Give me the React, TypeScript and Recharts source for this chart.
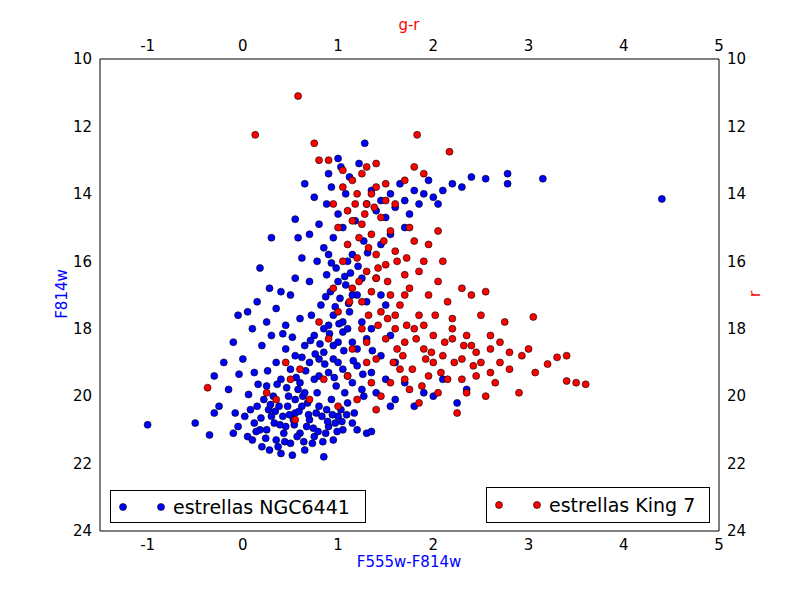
import { ScatterChart, Scatter, XAxis, YAxis } from 'recharts'

const X_TICKS = [-1, 0, 1, 2, 3, 4, 5]
const Y_TICKS = [10, 12, 14, 16, 18, 20, 22, 24]

const NGC6441: [number, number][] = [
  [0.05,21.2],[0.12,20.8],[0.2,21.5],[0.25,21.0],[0.3,20.6],[0.35,21.3],[0.4,21.7],[0.45,20.9],[0.5,21.4],[0.55,20.5],
  [0.6,21.1],[0.65,21.6],[0.7,20.7],[0.75,21.2],[0.8,20.3],[0.85,21.8],[0.9,20.9],[0.95,21.3],[1.0,20.6],[1.05,21.0],
  [0.15,20.3],[0.22,20.1],[0.38,20.3],[0.48,20.0],[0.58,19.8],[0.68,20.2],[0.78,19.9],[0.88,20.4],[0.98,19.7],[1.1,20.2],
  [0.02,20.6],[-0.05,20.9],[-0.1,21.1],[0.28,21.6],[0.52,21.75],[0.62,20.3],[0.42,20.6],[0.32,20.0],[0.18,21.0],[0.08,20.4],
  [1.15,20.8],[1.2,21.0],[1.3,21.1],[1.35,21.05],
  [0.4,19.5],[0.5,19.2],[0.55,18.8],[0.6,19.6],[0.65,18.5],[0.7,19.0],[0.75,18.2],[0.8,19.4],[0.85,18.7],[0.9,17.9],
  [0.95,18.9],[1.0,18.4],[1.05,19.2],[1.1,18.0],[1.15,19.6],[1.2,18.6],[1.25,19.8],[1.3,18.3],[1.35,19.3],[1.4,19.9],
  [0.45,18.6],[0.35,19.0],[0.25,19.7],[0.72,17.6],[0.82,17.3],[0.92,16.9],[1.02,17.1],[1.12,17.5],[0.88,16.4],[0.98,16.2],
  [1.08,16.7],[0.78,16.0],[0.85,15.6],[0.95,15.3],[1.05,15.0],[1.15,15.8],[1.25,16.5],[1.3,17.2],[1.35,18.0],[1.45,18.8],
  [1.5,19.5],[1.55,20.3],[1.6,19.0],
  [-0.3,19.4],[-0.25,20.3],[-0.2,19.0],[-0.15,19.8],[-0.1,18.4],[-0.05,17.6],[0.0,18.9],[0.05,17.5],[0.1,18.0],[0.12,19.3],
  [0.15,17.2],[0.2,18.5],[0.25,17.8],[0.28,16.8],[0.3,18.2],[0.35,17.4],[0.4,16.9],[0.45,17.9],[0.5,17.0],[0.55,16.5],
  [0.6,17.7],[0.18,16.2],[-0.08,20.5],[-0.3,20.5],[-0.35,21.15],[-0.5,20.8],[-1.0,20.85],[0.58,15.3],[0.55,14.75],[0.3,15.3],
  [0.7,15.2],[0.75,14.1],[0.8,14.9],[0.88,14.3],[0.93,13.8],[1.0,14.6],[1.03,13.2],[1.08,14.0],[1.12,13.5],[1.18,14.8],
  [1.22,13.1],[1.27,15.4],[1.3,14.3],[1.35,13.9],[1.4,14.5],[0.9,13.4],[0.65,13.7],[1.0,12.95],[1.28,12.5],[0.62,15.9],[0.7,16.6],
  [1.45,14.2],[1.5,14.7],[1.55,14.0],[1.6,14.4],[1.65,13.7],[1.7,14.2],[1.75,14.6],[1.8,13.9],[1.85,14.3],[1.9,14.0],
  [1.95,13.6],[2.0,14.1],[2.05,14.3],[2.1,13.9],[2.2,13.7],[2.3,13.8],[2.4,13.5],[2.55,13.55],[2.78,13.4],[2.78,13.7],
  [3.15,13.55],[4.4,14.15],[1.55,15.2],[1.7,15.0],[1.45,15.5],
  [1.6,20.1],[1.7,19.6],[1.8,20.3],[1.9,19.9],[2.0,20.0],[2.1,19.5],[2.25,20.2],[2.35,19.8],[1.5,17.3],[1.4,16.5],[1.45,17.0],[1.55,18.2],
  [0.1,21.3],[0.33,20.8],[0.43,21.1],[0.53,20.7],[0.63,20.0],[0.73,21.4],[0.83,20.6],[0.93,20.1],[1.03,20.4],[0.27,20.4],
  [0.37,21.5],[0.47,20.3],[0.57,21.2],[0.67,20.9],[0.77,20.5],[0.87,21.1],[0.97,20.8],[1.07,19.9],[1.17,20.5],[1.27,20.0],
  [0.8,18.9],[0.9,19.3],[1.0,19.0],[1.1,19.4],[1.2,19.1],[0.95,17.6],[1.05,18.1],[1.15,18.4],[0.85,18.0],[0.75,19.5],
  [0.65,19.9],[0.55,20.1],[1.0,16.6],[1.1,16.0],[0.9,15.8],[1.2,17.0],[1.05,17.8],[0.95,18.5],[1.25,17.8],[1.15,17.0],
  [0.14,21.05],[0.24,21.25],[0.34,20.45],[0.44,21.35],[0.54,20.85],[0.64,21.35],[0.74,20.95],[0.84,21.35],[0.94,20.55],[1.04,20.75],
  [0.19,20.65],[0.29,20.25],[0.39,20.85],[0.49,20.55],[0.59,20.45],[0.69,20.55],[0.79,21.05],[0.89,20.75],[0.99,21.05],[1.09,20.55],
  [0.46,19.75],[0.56,19.45],[0.66,19.25],[0.76,18.75],[0.86,19.05],[0.96,19.45],[1.06,18.65],[1.16,18.95],[1.26,19.35],[1.36,18.65],
  [0.71,18.35],[0.81,18.45],[0.91,18.15],[1.01,17.85],[1.11,17.25],[0.87,17.05],[0.97,17.35],[1.07,16.45],[0.93,16.05],[1.13,16.35],
  [0.36,19.65],[0.26,19.25],[0.16,19.65],[0.06,19.95],[-0.04,19.35],[0.52,18.25],[0.62,18.85],[0.42,18.15],[1.21,16.15],[1.31,15.75],
]

const KING7: [number, number][] = [
  [0.58,11.1],[0.13,12.25],[1.83,12.25],[2.17,12.75],[0.75,12.5],[0.8,13.0],[0.9,13.0],[1.05,13.3],[1.15,13.6],[1.3,13.2],
  [1.4,13.1],[1.5,13.7],[1.7,13.6],[1.8,13.2],[1.9,13.4],[1.6,14.3],[1.2,14.0],[1.1,14.5],[1.0,15.0],[1.25,14.9],
  [1.35,15.2],[1.45,14.7],[1.55,15.1],[1.1,15.5],[1.2,15.9],[1.3,16.3],[1.4,15.8],[1.5,16.1],[1.6,15.7],[1.7,16.4],
  [1.8,15.4],[1.9,16.0],[1.15,16.8],[1.25,17.2],[1.35,16.9],[1.45,17.5],[1.55,17.0],[1.65,17.3],[1.75,16.8],[1.85,17.6],
  [1.95,17.0],[2.05,16.6],[2.15,17.2],[2.3,16.8],[2.1,16.0],[2.2,17.7],[2.4,17.0],[2.55,16.9],[1.6,18.0],[1.7,18.4],
  [1.8,18.0],[1.9,18.6],[2.0,18.2],[2.1,18.8],[2.2,18.3],[2.3,18.9],[2.4,18.5],[2.5,19.0],[2.6,18.6],[2.7,18.4],
  [2.75,17.8],[2.6,18.2],[2.8,19.2],[2.9,19.9],[2.93,18.8],[3.0,18.6],[3.05,17.65],[3.07,19.3],[3.2,19.05],[3.3,18.85],
  [3.4,18.8],[3.4,19.55],[3.5,19.6],[3.6,19.65],[2.45,19.4],[2.35,19.9],[2.25,20.5],[2.55,20.0],[2.65,19.6],[2.15,19.5],
  [2.05,19.9],[1.95,19.4],[1.85,20.2],[1.75,19.8],[1.65,19.2],[1.55,19.6],[1.45,20.0],[1.4,20.4],[1.3,19.0],[1.35,19.6],
  [1.2,20.1],[1.1,19.4],[1.0,20.3],[0.85,19.5],[0.7,20.1],[0.6,19.2],[0.5,19.5],[0.45,19.0],[0.35,20.1],[0.55,20.7],
  [0.25,19.9],[-0.37,19.75],[0.9,18.3],[0.8,17.8],[1.0,17.5],[1.3,18.4],[1.4,18.9],[1.25,18.0],[1.15,18.6],[1.05,16.0],
  [0.95,16.8],[1.3,14.3],[1.15,14.8],[1.05,13.8],[0.95,14.3],[1.4,16.5],[1.5,18.3],[1.6,17.6],[1.7,17.0],[1.85,16.3],
  [1.95,15.5],[2.05,15.1],[1.75,15.0],[2.0,19.0],[2.35,18.2],[2.5,17.6],[2.2,18.0],[1.9,17.9],[2.45,18.7],[2.6,19.3],
  [2.7,19.0],[2.8,18.7],[1.4,13.8],[1.5,14.2],[1.35,14.0],[1.25,13.4],[1.7,19.5],[2.3,19.5],
  [1.18,14.3],[1.28,14.6],[1.38,14.4],[1.48,15.4],[1.22,15.3],[1.32,15.6],[1.42,16.2],[1.52,16.6],[1.62,16.0],[1.72,15.9],
  [1.12,17.2],[1.22,16.6],[1.32,17.6],[1.42,17.9],[1.52,17.7],[1.62,18.6],[1.72,17.9],[1.82,18.3],[1.92,18.9],[2.02,17.6],
  [2.12,18.4],[2.22,19.0],[2.32,18.5],[2.42,19.1],[1.58,19.0],[1.68,18.8],[1.78,19.2],[1.88,19.7],[1.98,18.7],[2.08,19.3],
]

const toRows = (pts: [number, number][]) => pts.map(([x, y]) => ({ x, y }))

const dot = (fill: string) => (props: any) => (
  <circle cx={props.cx} cy={props.cy} r={3.5} fill={fill} stroke="#000" strokeWidth={0.6} />
)

const tick = { fill: '#000', fontSize: 15 }

export default function App() {
  return (
    <div style={{ position: 'absolute', left: 0, top: 0, width: 800, height: 591, background: '#fff', fontFamily: 'DejaVu Sans' }}>
      <ScatterChart width={800} height={591} margin={{ top: 29, left: 50, right: 31, bottom: 30 }}>
        <XAxis xAxisId="b" type="number" dataKey="x" domain={[-1.5, 5]} ticks={X_TICKS} height={30}
          stroke="#000" tick={tick} tickLine={false} allowDataOverflow />
        <XAxis xAxisId="t" orientation="top" type="number" dataKey="x" domain={[-1.5, 5]} ticks={X_TICKS} height={30}
          stroke="#000" tick={tick} tickLine={false} allowDataOverflow />
        <YAxis yAxisId="l" type="number" dataKey="y" domain={[10, 24]} ticks={Y_TICKS} reversed width={50}
          stroke="#000" tick={tick} tickLine={false} allowDataOverflow />
        <YAxis yAxisId="r" orientation="right" type="number" dataKey="y" domain={[10, 24]} ticks={Y_TICKS} reversed width={50}
          stroke="#000" tick={tick} tickLine={false} allowDataOverflow />
        <Scatter xAxisId="b" yAxisId="l" data={toRows(NGC6441)} shape={dot('#0000ff')} isAnimationActive={false} />
        <Scatter xAxisId="b" yAxisId="l" data={toRows(KING7)} shape={dot('#ff0000')} isAnimationActive={false} />
      </ScatterChart>
      <div style={{ position: 'absolute', left: 0, width: 818, top: 553, textAlign: 'center', color: '#0000ff', fontSize: 15 }}>F555w-F814w</div>
      <div style={{ position: 'absolute', left: 0, width: 818, top: 16, textAlign: 'center', color: '#ff0000', fontSize: 15 }}>g-r</div>
      <div style={{ position: 'absolute', left: 22, top: 285, width: 80, textAlign: 'center', color: '#0000ff', fontSize: 15, transform: 'rotate(-90deg)' }}>F814w</div>
      <div style={{ position: 'absolute', left: 715, top: 285, width: 80, textAlign: 'center', color: '#ff0000', fontSize: 15, transform: 'rotate(-90deg)' }}>r</div>
      <div style={{ position: 'absolute', left: 110, top: 490, width: 254, height: 31, border: '1px solid #000', background: '#fff', display: 'flex', alignItems: 'center', fontSize: 19 }}>
        <svg width={62} height={20}><circle cx={12} cy={10} r={3.5} fill="#0000ff" stroke="#000" strokeWidth={0.6} /><circle cx={50} cy={10} r={3.5} fill="#0000ff" stroke="#000" strokeWidth={0.6} /></svg>
        <span>estrellas NGC6441</span>
      </div>
      <div style={{ position: 'absolute', left: 486, top: 487, width: 222, height: 34, border: '1px solid #000', background: '#fff', display: 'flex', alignItems: 'center', fontSize: 19 }}>
        <svg width={62} height={20}><circle cx={12} cy={10} r={3.5} fill="#ff0000" stroke="#000" strokeWidth={0.6} /><circle cx={50} cy={10} r={3.5} fill="#ff0000" stroke="#000" strokeWidth={0.6} /></svg>
        <span>estrellas King 7</span>
      </div>
    </div>
  )
}
